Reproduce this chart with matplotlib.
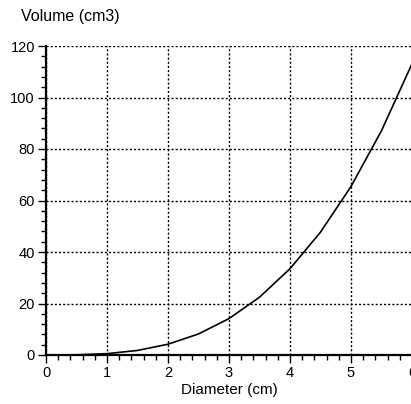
import numpy as np
import matplotlib
matplotlib.use("Agg")
import matplotlib.pyplot as plt
from matplotlib.ticker import MultipleLocator

diameter = [0, 0.5, 1, 1.5, 2, 2.5, 3, 3.5, 4, 4.5, 5, 5.5, 6]
volume = [0, 0.065, 0.52, 1.77, 4.19, 8.18, 14.14, 22.45, 33.51, 47.71, 65.45, 87.11, 113.1]

plt.rcParams['font.family'] = ['Liberation Sans', 'DejaVu Sans']
fig = plt.figure(figsize=(4.11, 4.04), dpi=100)
ax = fig.add_axes([46/411, 1-355/404, 366/411, 309/404])
ax.plot(diameter, volume, color='black', lw=1.2, clip_on=True)
ax.set_xlim(0, 6)
ax.set_ylim(0, 120)
ax.xaxis.set_major_locator(MultipleLocator(1))
ax.xaxis.set_minor_locator(MultipleLocator(0.2))
ax.yaxis.set_major_locator(MultipleLocator(20))
ax.yaxis.set_minor_locator(MultipleLocator(4))
ax.grid(True, which='major', color='black', linestyle=(0, (1.5, 1.5)), lw=1.0)
for s in ['top', 'right']:
    ax.spines[s].set_visible(False)
for s in ['left', 'bottom']:
    ax.spines[s].set_linewidth(1.6)
ax.tick_params(which='major', length=6, width=1.0, labelsize=10.5, pad=2)
ax.tick_params(which='minor', length=3.5, width=1.0)
ax.set_xlabel('Diameter (cm)', fontsize=11, labelpad=2)
fig.text(21/411, 1-17/404, 'Volume (cm3)', fontsize=11.5, va='center', ha='left')
fig.savefig('out.png', dpi=100)
